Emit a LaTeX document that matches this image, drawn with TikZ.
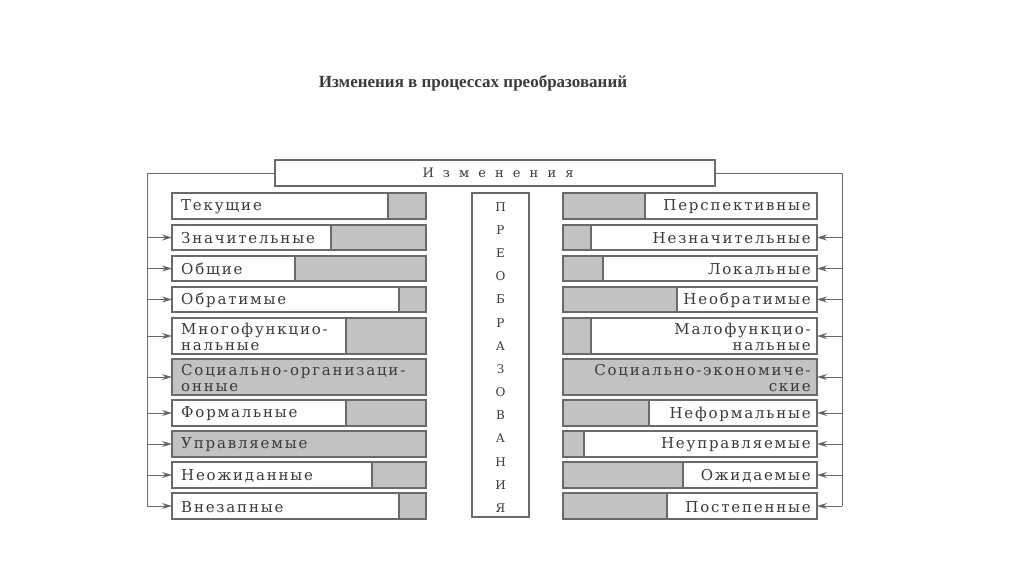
\documentclass[tikz,border=0pt]{standalone}
\usepackage{fontspec}
\setmainfont{Liberation Serif}
\newfontfamily\cellserif{DejaVu Serif}
\usetikzlibrary{arrows.meta}
\definecolor{inkgrey}{HTML}{3A3A3A}
\definecolor{cellgrey}{HTML}{C2C2C2}
\definecolor{edgegrey}{HTML}{6A6A6A}
\newcommand{\cellfont}{\cellserif\fontsize{15}{15.5}\selectfont\addfontfeatures{LetterSpace=12}}
\newcommand{\headfont}{\cellserif\fontsize{13}{15}\selectfont\addfontfeatures{LetterSpace=70}}
\newcommand{\midfont}{\cellserif\fontsize{12}{14}\selectfont}
\begin{document}
\begin{tikzpicture}
[x=1pt,y=-1pt,
  arrowDecorate/.style={-{Stealth[length=10pt,width=6pt,fill=inkgrey]},edgegrey,line width=1pt},
  busDecorate/.style={edgegrey,line width=1pt},
  cellDecorate/.style={draw=edgegrey,line width=1.3pt,inner sep=0pt,outer sep=0pt,minimum width=254pt},
  textDecorate/.style={inkgrey,font=\cellfont,inner sep=0pt}]
\useasboundingbox (0,0) rectangle (1024,576);
%% title
\node[inkgrey,font=\fontsize{17}{19}\selectfont\bfseries] (title) at (473,83)
  {Изменения в процессах преобразований};
%% head box and middle column
\node[draw=edgegrey,line width=1.3pt,minimum width=440pt,minimum height=26pt,
  inner sep=0pt] (head) at (495,173) {};
\node[inkgrey,font=\headfont] at ([xshift=3pt]head.center) {Изменения};
\node[draw=edgegrey,line width=1.3pt,minimum width=57pt,minimum height=324pt,
  inner sep=0pt] (mid) at (500.5,355) {};
\foreach [count=\i] \ch in {П,Р,Е,О,Б,Р,А,З,О,В,А,Н,И,Я}
{
  \node[inkgrey,font=\midfont,inner sep=0pt] (m\i) at (500.5,{207+(\i-1)*23.15}) {\ch};
}
%% left column
\foreach \n/\ya/\yb/\gx/\txt in {
  1/193/219/388/Текущие, 2/225/250/331/Значительные, 3/256/281/295/Общие,
  4/287/312/399/Обратимые, 5/318/354/346/{Многофункцио-\\нальные},
  6/359/395/172/{Социально-организаци-\\онные}, 7/400/426/346/Формальные,
  8/431/457/172/Управляемые, 9/462/488/372/Неожиданные, 10/493/519/399/Внезапные}
{
  \fill[cellgrey] (\gx,\ya) rectangle (426,\yb);
  \node[cellDecorate,minimum height={(\yb-\ya)*1pt}] (l\n) at (299,{(\ya+\yb)/2}) {};
  \draw[edgegrey,line width=1.3pt] (\gx,\ya) -- (\gx,\yb);
  \node[textDecorate,anchor=west,align=left] (lt\n) at ([xshift=9pt,yshift=-1pt]l\n.west) {\txt};
}
%% right column
\foreach \n/\ya/\yb/\gx/\txt in {
  1/193/219/645/Перспективные, 2/225/250/591/Незначительные, 3/256/281/603/Локальные,
  4/287/312/677/Необратимые, 5/318/354/591/{Малофункцио-\\нальные},
  6/359/395/817/{Социально-экономиче-\\ские}, 7/400/426/649/Неформальные,
  8/431/457/584/Неуправляемые, 9/462/488/683/Ожидаемые, 10/493/519/667/Постепенные}
{
  \fill[cellgrey] (563,\ya) rectangle (\gx,\yb);
  \node[cellDecorate,minimum height={(\yb-\ya)*1pt}] (r\n) at (690,{(\ya+\yb)/2}) {};
  \draw[edgegrey,line width=1.3pt] (\gx,\ya) -- (\gx,\yb);
  \node[textDecorate,anchor=east,align=right] (rt\n) at ([xshift=-6pt,yshift=-1pt]r\n.east) {\txt};
}
%% bus lines and arrows
\coordinate (lbus) at (147,173);
\coordinate (rbus) at (842,173);
\draw[busDecorate] (head.west) -- (lbus) -- (lbus |- l10.west);
\draw[busDecorate] (head.east) -- (rbus) -- (rbus |- r10.east);
\foreach \n in {2,...,10}
{
  \draw[arrowDecorate] (lbus |- l\n.west) -- (l\n.west);
  \draw[arrowDecorate] (rbus |- r\n.east) -- (r\n.east);
}
\end{tikzpicture}
\end{document}
